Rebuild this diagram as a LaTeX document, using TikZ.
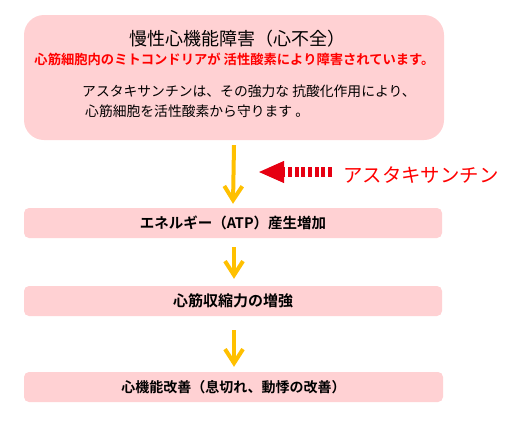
\documentclass[tikz,border=0pt]{standalone}
\usepackage{fontspec}
\setmainfont{Noto Sans CJK JP}[BoldFont={Noto Sans CJK JP Bold}]
\usetikzlibrary{arrows.meta,calc}
\definecolor{boxpink}{HTML}{FFD1D3}
\definecolor{flowor}{HTML}{FFC000}
\definecolor{arrred}{HTML}{E60012}
\definecolor{txtred}{HTML}{FF0000}
\tikzset{
  pinkbox/.style={fill=boxpink,draw=none,rounded corners=5pt,minimum width=418pt,minimum height=30pt,inner sep=0pt,
    font=\bfseries\fontsize{14.5pt}{16pt}\selectfont},
  flow/.style={draw=flowor,line width=4pt,-{Straight Barb[length=14pt,width=18pt]}},
  redarr/.style={draw=arrred,line width=10pt,dash pattern=on 4pt off 2.67pt,
    -{Triangle[length=26pt,width=20pt]}},
  txt/.style={inner sep=0pt}
}
\begin{document}
\begin{tikzpicture}[x=1pt,y=-1pt]
\useasboundingbox (0,0) rectangle (505,426);
\fill[white] (0,0) rectangle (505,426);
% top box
\node[fill=boxpink,rounded corners=20pt,minimum width=420pt,minimum height=125pt,inner sep=0pt] (box1) at (234,77.5) {};
\node[txt,font=\fontsize{18pt}{20pt}\selectfont] (title) at (237.5,39) {慢性心機能障害（心不全）};
\node[txt,text=txtred,font=\bfseries\fontsize{13.3pt}{15pt}\selectfont] (redline) at (234.5,59) {心筋細胞内のミトコンドリアが 活性酸素により障害されています。};
\node[txt,anchor=west,font=\fontsize{13.8pt}{15pt}\selectfont] (l1) at (82,91) {アスタキサンチンは、その強力な 抗酸化作用により、};
\node[txt,anchor=west,font=\fontsize{13.8pt}{15pt}\selectfont] (l2) at (85,111) {心筋細胞を活性酸素から守ります 。};
% boxes
\node[pinkbox] (box2) at (233,223) {エネルギー（ATP）産生増加};
\node[pinkbox,font=\bfseries\fontsize{15pt}{16pt}\selectfont] (box3) at (233,301) {心筋収縮力の増強};
\node[pinkbox,minimum width=419pt,font=\bfseries\fontsize{14pt}{16pt}\selectfont] (box4) at (233.5,387) {心機能改善（息切れ、動悸の改善）};
% flow arrows
\draw[flow] ($(box1.south)+(0,5)$) -- ($(box2.north)+(0,-4)$);
\draw[flow] ($(box2.south)+(1,9)$) -- ($(box3.north)+(1,-7)$);
\draw[flow] ($(box3.south)+(1,14)$) -- ($(box4.north)+(0.5,-5)$);
% astaxanthin
\node[txt,anchor=west,text=txtred,font=\fontsize{19.4pt}{22pt}\selectfont] (asta) at (343,175) {アスタキサンチン};
\coordinate (astatip) at (258,172);
\draw[redarr] ($(asta.west)+(-11,-3)$) -- (astatip);
\end{tikzpicture}
\end{document}
